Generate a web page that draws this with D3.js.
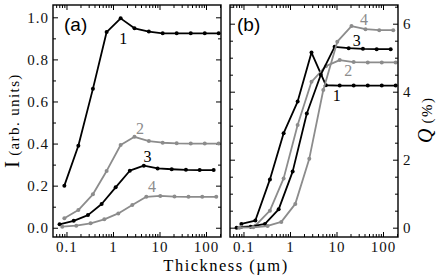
<!DOCTYPE html>
<html>
<head>
<meta charset="utf-8">
<script src="https://cdn.jsdelivr.net/npm/d3@7"></script>
<style>
body { margin: 0; background: #fff; }
svg { display: block; }
</style>
</head>
<body>
<div id="chart"></div>
<script>
// thickness (um) grids: curves 1 and 2 share one, 3 and 4 have their own
const thick12 = [0.09, 0.18, 0.37, 0.73, 1.46, 2.9, 5.9, 11.7, 23.4, 47, 94, 187];
const thick3 = [0.071, 0.143, 0.29, 0.57, 1.14, 2.3, 4.6, 9.1, 18.3, 37, 73, 146];
const thick4 = [0.081, 0.162, 0.33, 0.65, 1.3, 2.6, 5.2, 10.4, 21, 42, 83, 166];

// panel (a): intensity, arb. units
const intens1 = [0.20, 0.39, 0.66, 0.93, 0.995, 0.948, 0.932, 0.924, 0.924, 0.924, 0.924, 0.924];
const intens2 = [0.045, 0.084, 0.159, 0.27, 0.393, 0.432, 0.412, 0.404, 0.401, 0.40, 0.40, 0.40];
const intens3 = [0.016, 0.033, 0.060, 0.113, 0.192, 0.271, 0.295, 0.282, 0.278, 0.275, 0.274, 0.274];
const intens4 = [0.005, 0.010, 0.021, 0.040, 0.068, 0.108, 0.147, 0.151, 0.148, 0.147, 0.147, 0.147];

// panel (b): Q, %
const q1 = [0.11, 0.21, 1.42, 2.78, 3.71, 5.15, 4.19, 4.18, 4.18, 4.18, 4.18, 4.18];
const q2 = [0.02, 0.06, 0.50, 1.45, 3.02, 4.29, 4.75, 4.93, 4.87, 4.86, 4.86, 4.86];
const q3 = [0.0, 0.03, 0.11, 0.54, 1.65, 3.36, 4.5, 5.32, 5.28, 5.26, 5.25, 5.25];
const q4 = [0.0, 0.01, 0.05, 0.17, 0.70, 2.03, 4.05, 5.47, 5.93, 5.84, 5.81, 5.81];

const curveNames = ["1", "2", "3", "4"];
const xTicks = [0.1, 1, 10, 100];
const xTickLabels = ["0.1", "1", "10", "100"];
const iTicks = [0, 0.2, 0.4, 0.6, 0.8, 1.0];
const iTickLabels = ["0.0", "0.2", "0.4", "0.6", "0.8", "1.0"];
const qTicks = [0, 2, 4, 6];
const qTickLabels = ["0", "2", "4", "6"];

const W = 443, H = 277;
const yTop = 5, yBottom = 237, pw = 168;
const black = "#000", gray = "#8c8c8c";
const serif = "Liberation Serif, Times New Roman, serif";

const svg = d3.select("#chart").append("svg")
    .attr("width", W)
    .attr("height", H)

const yI = d3.scaleLinear().domain([-0.044, 1.0585]).range([yBottom, yTop]);
const yQ = d3.scaleLinear().domain([-0.274, 6.55]).range([yBottom, yTop]);

function styleAxis(g) {
    g.select(".domain").remove();
    g.attr("font-family", serif).attr("font-size", 15);
    g.selectAll("line").attr("stroke", "#000").attr("stroke-width", 1);
    g.selectAll("text")
        .style("letter-spacing", "1px")
        .attr("fill", "#111");
}

function drawPanel(id, left, y, series, major, majorLabels, minorStep, labelSide, tag, notes) {
    const x = d3.scaleLog().domain([0.0513, 210]).range([left, left + pw]);
    const g = svg.append("g");

    g.append("clipPath").attr("id", "clip" + id)
        .append("rect")
        .attr("x", left).attr("y", yTop)
        .attr("width", pw).attr("height", yBottom - yTop);

    // minor ticks
    const xMinor = x.ticks().filter(d => !xTicks.includes(d));
    const yMinor = d3.range(y.domain()[0], y.domain()[1], minorStep)
        .map(d => Math.ceil(d / minorStep) * minorStep)
        .filter(d => !major.some(m => Math.abs(m - d) < 1e-6));

    g.append("g").attr("transform", `translate(0,${yBottom})`)
        .call(d3.axisBottom(x).tickValues(xMinor).tickSize(-3).tickFormat(""))
        .call(styleAxis);
    g.append("g").attr("transform", `translate(0,${yTop})`)
        .call(d3.axisTop(x).tickValues(xMinor).tickSize(-3).tickFormat(""))
        .call(styleAxis);
    g.append("g").attr("transform", `translate(0,${yBottom})`)
        .call(d3.axisBottom(x).tickValues(xTicks).tickSize(-5).tickPadding(4)
            .tickFormat((d, i) => xTickLabels[i]))
        .call(styleAxis);
    g.append("g").attr("transform", `translate(0,${yTop})`)
        .call(d3.axisTop(x).tickValues(xTicks).tickSize(-5).tickFormat(""))
        .call(styleAxis);

    g.append("g").attr("transform", `translate(${left},0)`)
        .call(d3.axisLeft(y).tickValues(yMinor).tickSize(-3).tickFormat(""))
        .call(styleAxis);
    g.append("g").attr("transform", `translate(${left + pw},0)`)
        .call(d3.axisRight(y).tickValues(yMinor).tickSize(-3).tickFormat(""))
        .call(styleAxis);
    g.append("g").attr("transform", `translate(${left},0)`)
        .call(d3.axisLeft(y).tickValues(major).tickSize(-5).tickPadding(4)
            .tickFormat((d, i) => labelSide == "left" ? majorLabels[i] : ""))
        .call(styleAxis);
    g.append("g").attr("transform", `translate(${left + pw},0)`)
        .call(d3.axisRight(y).tickValues(major).tickSize(-5).tickPadding(5)
            .tickFormat((d, i) => labelSide == "right" ? majorLabels[i] : ""))
        .call(styleAxis);

    // curves
    const line = d3.line().x(d => x(d[0])).y(d => y(d[1]));
    const plot = g.append("g").attr("clip-path", `url(#clip${id})`);
    series.forEach(s => {
        const pts = s.xs.map((v, i) => [v, s.ys[i]]);
        plot.append("path")
            .datum(pts)
            .attr("d", line)
            .attr("fill", "none")
            .attr("stroke", s.color)
            .attr("stroke-width", 1.8)
            .attr("stroke-linejoin", "round");
        plot.selectAll(null)
            .data(pts)
            .join("circle")
            .attr("cx", d => x(d[0]))
            .attr("cy", d => y(d[1]))
            .attr("r", 2)
            .attr("fill", s.color);
    });

    // curve numbers
    notes.forEach(n => {
        g.append("text")
            .attr("x", x(n.x))
            .attr("y", y(n.y))
            .attr("dy", "0.35em")
            .attr("text-anchor", "middle")
            .attr("font-family", serif)
            .attr("font-size", 16)
            .attr("fill", n.color)
            .text(n.name);
    });

    // frame
    g.append("rect")
        .attr("x", left).attr("y", yTop)
        .attr("width", pw).attr("height", yBottom - yTop)
        .attr("fill", "none")
        .attr("stroke", "#000")
        .attr("stroke-width", 1.4);

    g.append("text")
        .attr("x", tag.x).attr("y", 31)
        .attr("font-family", "Liberation Sans, Arial, sans-serif")
        .attr("font-size", 19)
        .text(tag.text);
}

drawPanel("a", 53, yI, [
    {xs: thick12, ys: intens1, color: black},
    {xs: thick12, ys: intens2, color: gray},
    {xs: thick3, ys: intens3, color: black},
    {xs: thick4, ys: intens4, color: gray}
], iTicks, iTickLabels, 0.1, "left", {x: 64, text: "(a)"}, [
    {name: curveNames[0], x: 1.66, y: 0.90, color: black},
    {name: curveNames[1], x: 3.8, y: 0.472, color: gray},
    {name: curveNames[2], x: 5.5, y: 0.341, color: black},
    {name: curveNames[3], x: 6.9, y: 0.198, color: gray}
]);

drawPanel("b", 230, yQ, [
    {xs: thick12, ys: q1, color: black},
    {xs: thick12, ys: q2, color: gray},
    {xs: thick3, ys: q3, color: black},
    {xs: thick4, ys: q4, color: gray}
], qTicks, qTickLabels, 0.5, "right", {x: 237, text: "(b)"}, [
    {name: curveNames[0], x: 10.1, y: 3.9, color: black},
    {name: curveNames[1], x: 17.9, y: 4.62, color: gray},
    {name: curveNames[2], x: 27.2, y: 5.5, color: black},
    {name: curveNames[3], x: 39, y: 6.13, color: gray}
]);

// axis titles
svg.append("text")
    .attr("x", 226).attr("y", 271)
    .attr("text-anchor", "middle")
    .attr("font-family", serif)
    .attr("font-size", 16.5)
    .style("letter-spacing", "1.5px")
    .text("Thickness (\u00b5m)");

const yt = svg.append("text")
    .attr("transform", "translate(19,168) rotate(-90)")
    .attr("font-family", serif);
yt.append("tspan").attr("font-size", 21).text("I");
yt.append("tspan").attr("font-size", 15).style("letter-spacing", "1.4px").text(" (arb. units)");

const qt = svg.append("text")
    .attr("transform", "translate(432,143) rotate(-90)")
    .attr("font-family", serif);
qt.append("tspan").attr("font-size", 20).attr("font-style", "italic").text("Q");
qt.append("tspan").attr("font-size", 15).style("letter-spacing", "1.4px").text(" (%)");
</script>
</body>
</html>
